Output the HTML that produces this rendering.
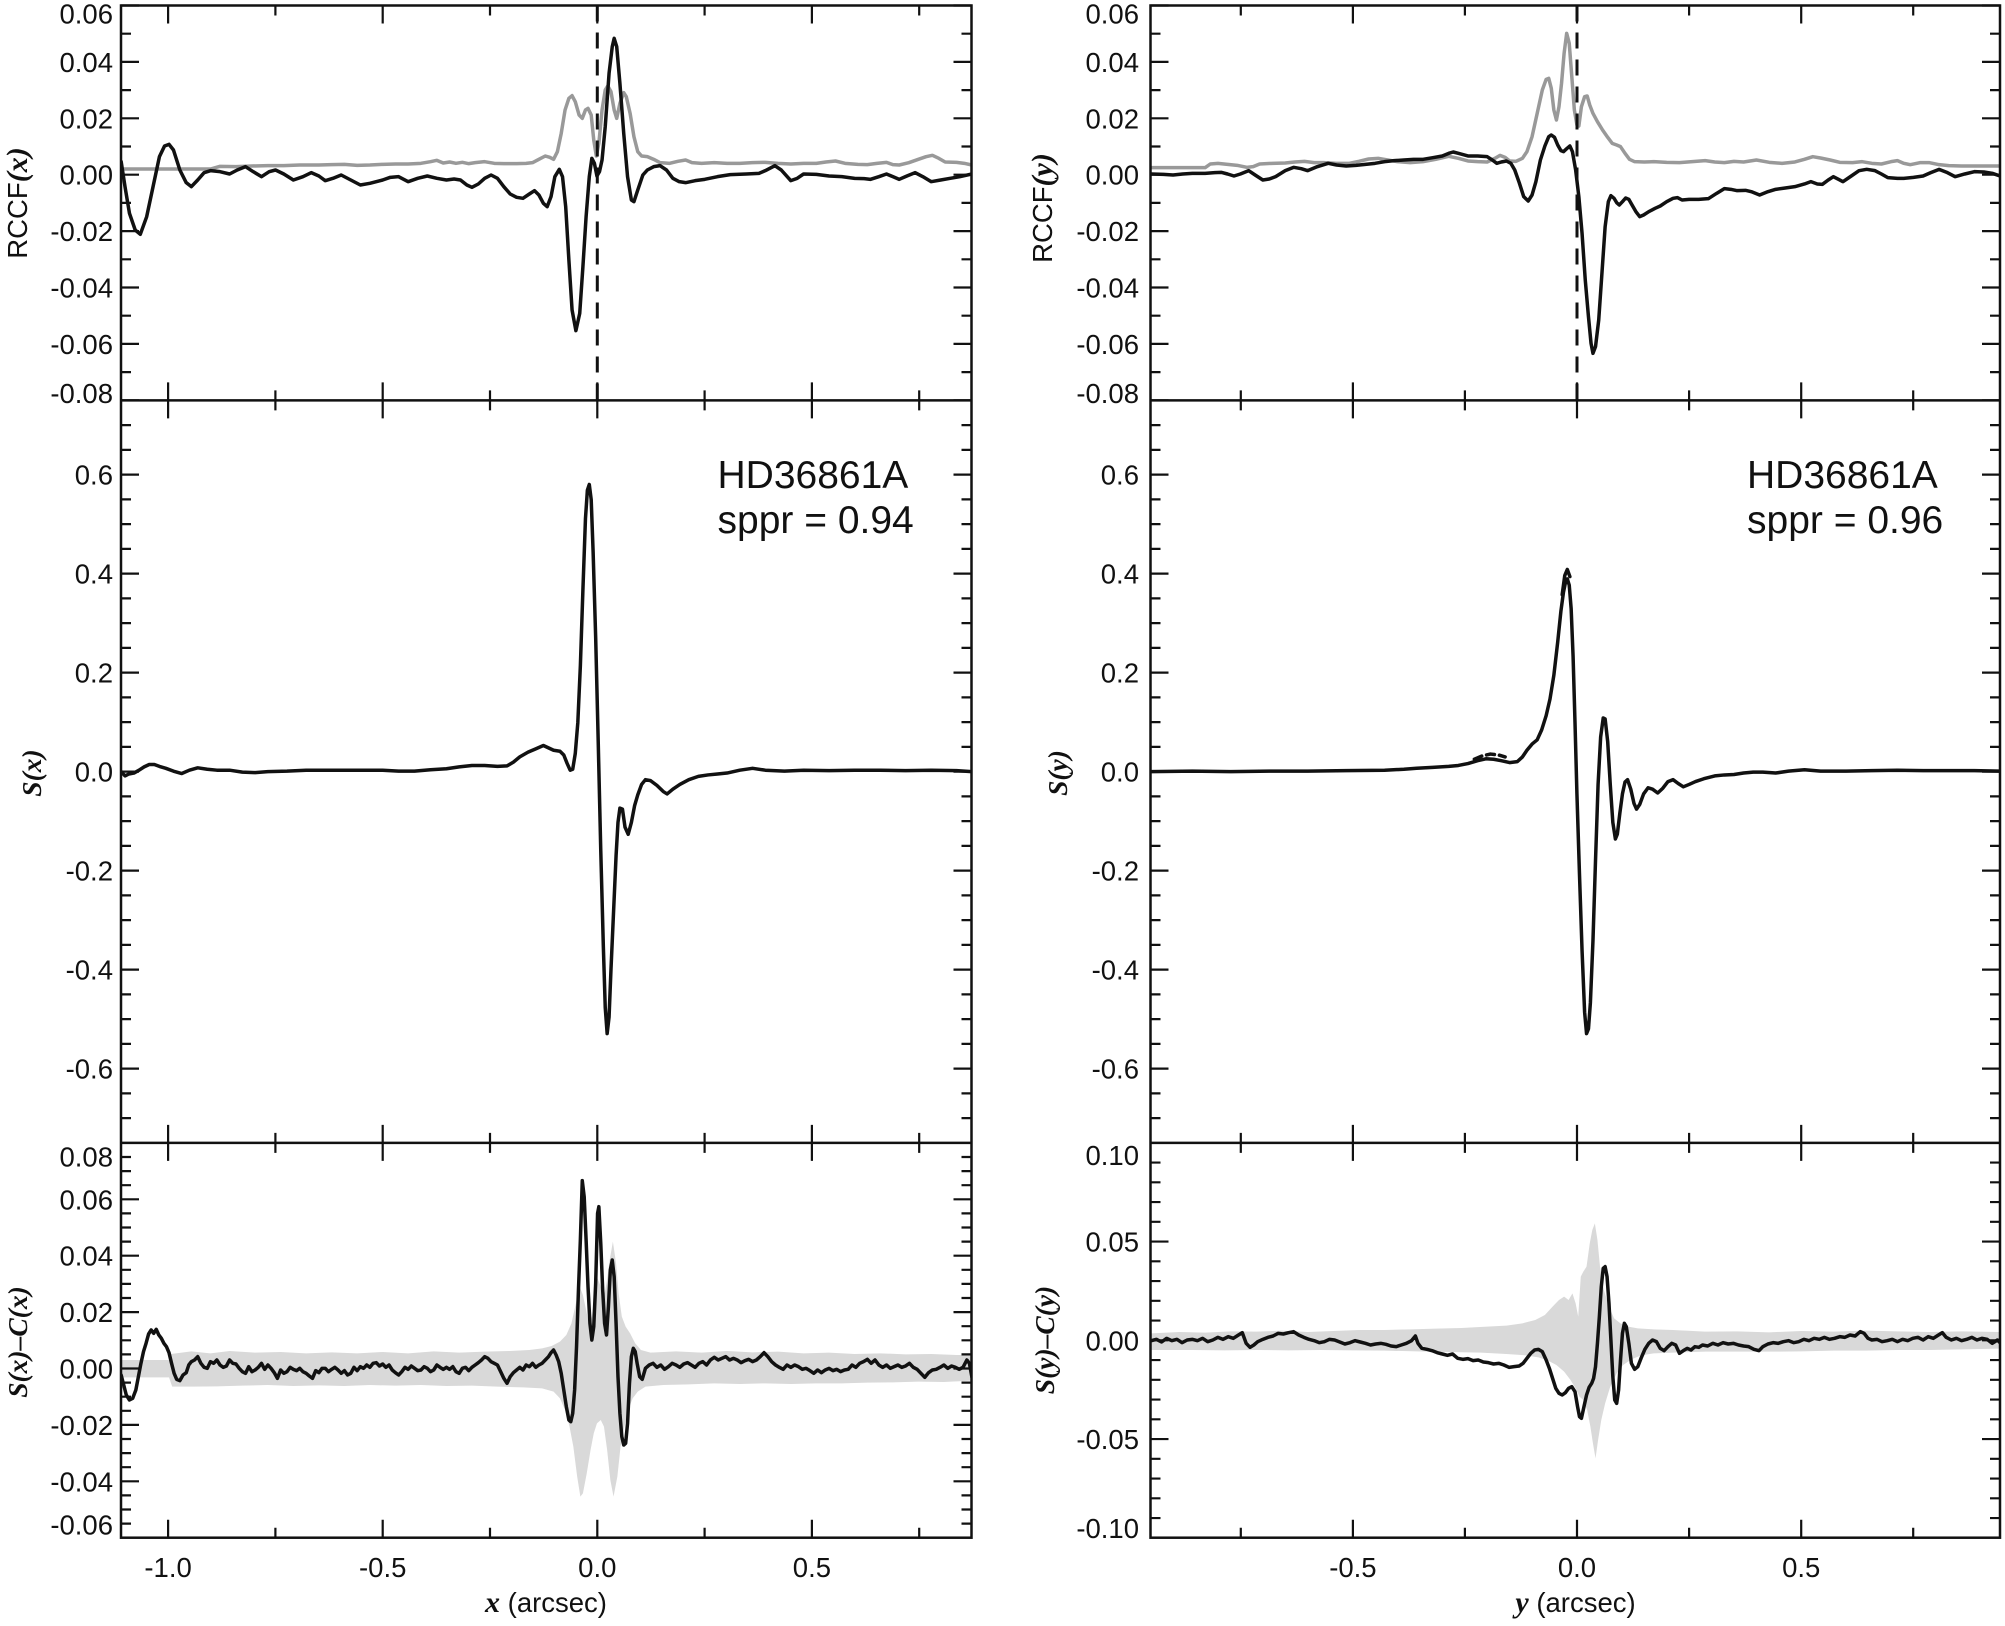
<!DOCTYPE html>
<html><head><meta charset="utf-8"><style>
html,body{margin:0;padding:0;background:#fff;}
svg{display:block;}
.t{font-family:"Liberation Sans",Arial,sans-serif;font-size:27.5px;fill:#111;}
.r{text-anchor:end;}
.m{text-anchor:middle;}
.it{font-family:"Liberation Serif","Times New Roman",serif;font-style:italic;font-weight:bold;}
.ann{font-family:"Liberation Sans",Arial,sans-serif;font-size:39px;fill:#111;}
.blk{fill:none;stroke:#111;stroke-width:3.5;stroke-linejoin:round;stroke-linecap:round;vector-effect:non-scaling-stroke;}
.gry{fill:none;stroke:#999;stroke-width:3.5;stroke-linejoin:round;vector-effect:non-scaling-stroke;}
.band{fill:#d9d9d9;stroke:none;}
.ax{fill:none;stroke:#111;stroke-width:2.5;}
.tk{fill:none;stroke:#111;stroke-width:2.2;}
</style></head><body>
<svg width="2005" height="1626" viewBox="0 0 2005 1626" xmlns="http://www.w3.org/2000/svg">
<defs>
<clipPath id="cTL"><rect x="121" y="5.5" width="850.5" height="395"/></clipPath>
<clipPath id="cTR"><rect x="1150.5" y="5.5" width="849.5" height="395"/></clipPath>
<clipPath id="cML"><rect x="121" y="400.4" width="850.5" height="742.5"/></clipPath>
<clipPath id="cMR"><rect x="1150.5" y="400.4" width="849.5" height="742.5"/></clipPath>
<clipPath id="cBL"><rect x="121" y="1142.9" width="850.5" height="395"/></clipPath>
<clipPath id="cBR"><rect x="1150.5" y="1142.9" width="849.5" height="395"/></clipPath>
<path id="ytTop" d="M0 0h18M0 28.2h10M0 56.4h18M0 84.6h10M0 112.8h18M0 141h10M0 169.2h18M0 197.4h10M0 225.6h18M0 253.8h10M0 282h18M0 310.2h10M0 338.4h18M0 366.6h10M0 394.8h18"/>
<path id="ytMid" d="M0 24.75h10M0 49.5h10M0 74.25h18M0 99h10M0 123.75h10M0 148.5h10M0 173.25h18M0 198h10M0 222.75h10M0 247.5h10M0 272.25h18M0 297h10M0 321.75h10M0 346.5h10M0 371.25h18M0 396h10M0 420.75h10M0 445.5h10M0 470.25h18M0 495h10M0 519.75h10M0 544.5h10M0 569.25h18M0 594h10M0 618.75h10M0 643.5h10M0 668.25h18M0 693h10M0 717.75h10"/>
<path id="ytBL" d="M0 14.1h10M0 28.2h10M0 42.3h10M0 56.4h18M0 70.5h10M0 84.6h10M0 98.7h10M0 112.8h18M0 126.9h10M0 141h10M0 155.1h10M0 169.2h18M0 183.3h10M0 197.4h10M0 211.5h10M0 225.6h18M0 239.7h10M0 253.8h10M0 267.9h10M0 282h18M0 296.1h10M0 310.2h10M0 324.3h10M0 338.4h18M0 352.5h10M0 366.6h10M0 380.7h10"/>
<path id="ytBR" d="M0 19.75h10M0 39.5h10M0 59.25h10M0 79h10M0 98.75h18M0 118.5h10M0 138.25h10M0 158h10M0 177.75h10M0 197.5h18M0 217.25h10M0 237h10M0 256.75h10M0 276.5h10M0 296.25h18M0 316h10M0 335.75h10M0 355.5h10M0 375.25h10"/>
<path id="xtL" d="M168.1 0v18M275.4 0v10M382.7 0v18M490 0v10M597.3 0v18M704.6 0v10M811.9 0v18M919.2 0v10"/>
<path id="xtR" d="M1240.8 0v10M1352.9 0v18M1464.9 0v10M1577 0v18M1689.1 0v10M1801.2 0v18M1913.2 0v10"/>
</defs>
<rect width="2005" height="1626" fill="#fff"/>

<!-- ===== TOP LEFT ===== -->
<g clip-path="url(#cTL)"><g transform="scale(0.63776,0.33333)">
<path class="gry" d="M190 507 L330 507 L345 499 L370 500 L395 498 L420 497 L445 497 L470 495 L500 495 L520 494 L540 493 L560 496 L580 495 L600 493 L620 492 L640 492 L660 490 L675 485 L685 481 L695 489 L705 486 L715 490 L725 487 L735 491 L745 488 L760 485 L775 490 L790 491 L810 491 L825 490 L835 488 L845 478 L855 468 L862 472 L868 478 L874 455 L880 400 L886 330 L892 295 L897 287 L902 305 L908 345 L913 355 L918 330 L922 325 L927 345 L931 420 L935 468 L939 430 L944 330 L949 270 L953 258 L958 275 L963 330 L967 355 L972 310 L978 278 L982 290 L988 340 L994 410 L1000 455 L1006 468 L1015 470 L1025 478 L1035 488 L1050 490 L1063 484 L1075 480 L1085 488 L1100 490 L1120 488 L1140 490 L1160 490 L1180 488 L1200 487 L1220 490 L1240 492 L1260 490 L1280 490 L1295 486 L1310 483 L1325 490 L1345 493 L1360 494 L1375 490 L1390 487 L1400 494 L1410 495 L1425 488 L1440 478 L1452 470 L1462 466 L1472 475 L1482 486 L1500 487 L1512 490 L1524 495"/>
<path class="blk" d="M190 485 L196 560 L203 640 L212 690 L220 703 L230 650 L240 560 L250 470 L258 438 L265 433 L272 450 L282 510 L292 548 L300 560 L310 540 L320 518 L330 512 L345 515 L360 522 L372 510 L385 500 L397 515 L410 530 L422 515 L432 510 L445 522 L460 540 L475 530 L488 518 L500 528 L510 542 L522 535 L535 525 L550 540 L565 555 L580 550 L600 540 L612 532 L625 530 L640 545 L655 535 L670 528 L685 535 L700 540 L712 537 L722 540 L732 555 L740 562 L750 552 L760 535 L770 525 L780 535 L790 560 L800 582 L810 592 L820 595 L830 582 L838 572 L845 585 L852 610 L858 620 L864 590 L870 530 L877 508 L882 530 L887 620 L892 780 L897 930 L903 992 L909 940 L914 800 L919 650 L924 530 L928 475 L932 490 L936 528 L940 515 L944 480 L949 380 L955 220 L960 140 L963 115 L967 140 L972 250 L978 400 L984 530 L990 600 L994 605 L1000 570 L1008 525 L1015 510 L1025 500 L1035 497 L1045 510 L1055 535 L1065 545 L1075 548 L1090 542 L1105 538 L1125 530 L1145 524 L1170 522 L1190 520 L1200 512 L1215 497 L1225 510 L1240 542 L1250 535 L1260 522 L1280 523 L1300 528 L1320 530 L1340 535 L1355 536 L1365 538 L1378 530 L1390 522 L1400 530 L1410 538 L1422 528 L1435 518 L1447 530 L1460 545 L1475 540 L1490 535 L1505 530 L1524 522"/>
</g></g>
<line x1="597.3" y1="5.5" x2="597.3" y2="400" stroke="#111" stroke-width="3" stroke-dasharray="16 11"/>

<!-- ===== TOP RIGHT ===== -->
<g clip-path="url(#cTR)"><g transform="translate(1000,0) scale(0.64103,0.33333)">
<path class="gry" d="M236 503 L320 503 L328 492 L340 490 L355 493 L370 496 L385 502 L395 500 L405 492 L425 490 L445 489 L460 486 L475 484 L490 488 L505 488 L525 490 L545 490 L560 484 L575 477 L590 475 L605 480 L620 485 L640 488 L660 485 L680 478 L700 469 L715 475 L730 483 L745 485 L760 486 L772 475 L780 466 L788 472 L795 483 L805 484 L815 475 L822 455 L830 410 L838 340 L846 270 L852 238 L856 235 L860 265 L864 330 L868 360 L872 320 L876 250 L880 160 L884 100 L888 130 L892 230 L896 330 L900 375 L903 378 L907 320 L912 290 L916 288 L920 315 L925 340 L932 365 L940 390 L948 412 L955 430 L962 435 L968 440 L975 460 L982 478 L990 485 L1005 486 L1020 485 L1040 487 L1060 488 L1080 485 L1100 482 L1115 486 L1130 488 L1145 484 L1160 486 L1180 480 L1200 487 L1220 490 L1240 486 L1255 478 L1268 470 L1280 474 L1295 480 L1310 487 L1330 488 L1345 485 L1360 490 L1375 492 L1390 485 L1400 482 L1410 490 L1420 494 L1435 488 L1450 488 L1465 494 L1480 497 L1500 498 L1560 498"/>
<path class="blk" d="M236 522 L255 523 L270 525 L285 522 L300 520 L320 520 L335 518 L345 517 L355 522 L365 528 L375 522 L388 512 L398 525 L410 540 L420 537 L430 530 L445 512 L458 502 L470 506 L480 512 L495 500 L512 490 L525 495 L540 498 L555 496 L570 493 L585 490 L600 485 L615 482 L630 480 L645 478 L660 478 L675 473 L690 468 L700 460 L707 456 L715 460 L730 468 L745 468 L760 470 L768 480 L775 490 L782 486 L790 483 L797 490 L803 510 L810 548 L817 590 L824 603 L830 585 L836 545 L843 480 L850 438 L856 410 L860 405 L865 412 L870 435 L875 452 L879 455 L884 446 L889 438 L893 455 L898 510 L903 590 L908 700 L913 840 L918 950 L922 1030 L925 1060 L929 1040 L934 960 L939 820 L944 680 L949 605 L953 587 L958 595 L962 608 L966 615 L971 605 L976 594 L981 598 L986 615 L992 635 L998 650 L1004 645 L1012 635 L1022 625 L1030 618 L1040 605 L1050 595 L1057 593 L1064 600 L1075 598 L1090 598 L1105 596 L1118 580 L1130 566 L1140 568 L1150 572 L1163 571 L1172 575 L1185 585 L1198 575 L1210 568 L1225 564 L1240 560 L1255 552 L1265 545 L1275 552 L1283 553 L1292 540 L1300 530 L1308 538 L1315 545 L1328 528 L1340 512 L1352 508 L1365 512 L1375 522 L1385 533 L1400 535 L1410 535 L1425 532 L1440 528 L1452 518 L1465 508 L1478 518 L1490 530 L1505 522 L1520 515 L1535 516 L1548 520 L1560 528"/>
</g></g>
<line x1="1577" y1="5.5" x2="1577" y2="400" stroke="#111" stroke-width="3" stroke-dasharray="16 11"/>

<!-- ===== MIDDLE LEFT ===== -->
<g clip-path="url(#cML)"><g transform="translate(0,400) scale(0.63776,0.47461)">
<path class="blk" d="M190 783 L196 792 L202 788 L210 786 L218 780 L226 773 L234 768 L242 768 L250 772 L260 776 L272 782 L285 787 L297 780 L310 775 L325 778 L340 780 L360 780 L380 784 L400 785 L420 783 L450 782 L480 780 L500 780 L550 780 L600 780 L625 782 L650 782 L675 779 L700 777 L720 773 L740 770 L760 770 L780 772 L795 771 L805 763 L815 752 L828 742 L840 735 L852 728 L860 733 L868 738 L878 740 L884 748 L889 765 L894 780 L898 778 L902 745 L906 680 L910 560 L914 400 L918 250 L921 190 L924 178 L927 210 L930 320 L934 500 L938 720 L942 950 L946 1150 L949 1280 L952 1335 L955 1300 L958 1200 L962 1080 L966 960 L969 890 L972 860 L976 862 L980 900 L985 915 L990 890 L995 855 L1000 832 L1006 810 L1012 800 L1020 802 L1030 812 L1040 825 L1046 830 L1055 820 L1066 810 L1080 800 L1095 793 L1110 790 L1125 788 L1140 786 L1160 780 L1180 776 L1200 780 L1230 782 L1260 780 L1300 781 L1340 780 L1380 780 L1420 781 L1460 780 L1500 781 L1524 783"/>
</g></g>

<!-- ===== MIDDLE RIGHT ===== -->
<g clip-path="url(#cMR)"><g transform="translate(1000,400) scale(0.64103,0.47461)">
<path class="blk" d="M236 783 L300 782 L360 783 L420 782 L480 782 L540 781 L600 780 L630 778 L650 776 L675 774 L700 772 L715 770 L730 766 L745 760 L758 756 L770 757 L782 760 L795 764 L807 762 L815 752 L822 738 L830 725 L838 716 L845 695 L852 665 L858 630 L864 580 L870 510 L875 445 L879 405 L882 385 L885 377 L888 390 L891 440 L894 540 L897 680 L900 830 L904 1000 L908 1160 L912 1290 L915 1335 L918 1325 L921 1270 L925 1140 L929 970 L933 810 L937 710 L941 670 L944 672 L948 720 L952 810 L956 890 L960 925 L963 915 L967 870 L971 830 L975 805 L979 800 L984 820 L989 850 L993 862 L998 852 L1004 830 L1011 817 L1018 820 L1026 828 L1034 818 L1042 804 L1050 800 L1058 808 L1066 815 L1075 810 L1085 804 L1098 798 L1115 792 L1130 790 L1145 789 L1160 786 L1175 784 L1190 784 L1210 786 L1230 782 L1255 779 L1280 782 L1320 782 L1360 781 L1400 780 L1440 781 L1480 781 L1520 781 L1560 782"/>
<path class="blk" stroke-dasharray="8 5" d="M740 757 L752 750 L765 746 L778 748 L788 752"/>
<path class="blk" d="M877 410 L881 370 L885 357 L889 372"/>
</g></g>

<!-- ===== BOTTOM LEFT ===== -->
<g clip-path="url(#cBL)"><g transform="translate(0,1130) scale(0.63776,0.33333)">
<path class="band" d="M190 690 L265 690 L268 672 L285 668 L300 664 L330 670 L360 663 L400 668 L440 666 L480 670 L520 667 L560 670 L600 666 L640 670 L680 664 L720 668 L760 665 L800 663 L830 660 L850 655 L865 648 L878 635 L888 615 L896 580 L903 520 L909 470 L914 495 L919 540 L924 590 L928 560 L932 500 L937 445 L942 470 L947 500 L951 460 L956 390 L961 335 L966 400 L970 490 L975 560 L981 590 L988 610 L996 640 L1005 660 L1020 668 L1060 664 L1100 668 L1140 663 L1180 667 L1220 665 L1260 670 L1300 668 L1340 672 L1380 670 L1420 673 L1460 672 L1500 675 L1524 675 L1524 752 L1480 756 L1440 755 L1400 757 L1360 758 L1320 760 L1280 760 L1240 762 L1200 760 L1160 762 L1120 760 L1080 763 L1040 765 L1012 770 L1000 785 L992 805 L985 840 L979 890 L973 950 L968 1040 L962 1100 L957 1050 L952 960 L947 890 L942 870 L936 880 L931 910 L926 960 L920 1030 L914 1090 L910 1100 L905 1040 L899 950 L893 890 L886 840 L878 805 L868 785 L850 775 L820 772 L780 770 L740 767 L700 768 L660 765 L620 767 L580 765 L540 768 L500 766 L460 768 L420 765 L380 767 L340 769 L300 770 L270 770 L265 742 L190 742 Z"/>
<path class="blk" d="M190 735 L194 765 L198 795 L203 810 L208 805 L213 780 L217 740 L221 700 L225 665 L229 640 L233 612 L237 600 L241 610 L245 598 L249 615 L253 625 L257 640 L261 650 L265 668 L269 700 L273 730 L277 748 L282 752 L287 735 L292 728 L296 705 L300 695 L305 690 L310 680 L315 700 L320 712 L325 715 L330 695 L335 700 L340 690 L345 705 L350 712 L355 708 L360 690 L365 700 L370 702 L375 715 L380 725 L385 730 L390 710 L395 725 L400 720 L405 712 L410 700 L415 718 L420 705 L425 715 L430 728 L435 745 L440 720 L445 730 L450 725 L455 712 L460 718 L465 722 L470 715 L475 725 L480 730 L485 738 L490 745 L495 722 L500 728 L505 715 L510 715 L515 725 L520 718 L525 712 L530 720 L535 730 L540 722 L545 735 L550 730 L555 712 L560 722 L565 710 L570 715 L575 705 L580 712 L585 700 L590 698 L595 708 L600 702 L605 712 L610 705 L615 720 L620 728 L625 735 L630 725 L635 712 L640 718 L645 708 L650 715 L655 722 L660 720 L665 710 L670 715 L675 725 L680 720 L685 705 L690 712 L695 718 L700 712 L705 718 L710 710 L715 725 L720 730 L725 715 L730 712 L735 722 L740 712 L745 705 L750 698 L755 690 L760 680 L765 685 L770 695 L775 700 L780 705 L785 725 L790 745 L795 760 L800 740 L805 728 L810 720 L815 712 L820 720 L825 705 L830 710 L835 700 L840 712 L845 705 L850 700 L855 690 L860 680 L864 668 L868 660 L872 675 L876 695 L880 730 L884 780 L888 830 L892 870 L895 875 L898 850 L901 780 L904 650 L907 480 L910 330 L913 152 L916 200 L919 330 L922 470 L925 580 L928 630 L931 590 L934 460 L937 250 L939 230 L942 340 L945 480 L948 580 L951 615 L954 530 L957 420 L960 390 L963 440 L966 580 L969 740 L972 850 L975 920 L978 945 L981 940 L984 880 L987 760 L990 680 L993 655 L996 665 L999 700 L1003 740 L1007 748 L1012 715 L1018 705 L1024 700 L1030 712 L1036 705 L1042 718 L1048 710 L1054 700 L1060 705 L1066 712 L1072 702 L1078 698 L1084 705 L1090 712 L1096 700 L1102 695 L1108 705 L1114 690 L1120 682 L1126 690 L1132 685 L1138 680 L1144 690 L1150 685 L1156 690 L1162 698 L1168 692 L1174 688 L1180 695 L1186 690 L1192 680 L1198 668 L1204 680 L1210 695 L1216 705 L1222 712 L1228 718 L1234 705 L1240 712 L1246 705 L1252 710 L1258 718 L1264 715 L1270 722 L1276 730 L1282 720 L1288 728 L1294 720 L1300 715 L1306 722 L1312 718 L1318 725 L1324 720 L1330 718 L1336 705 L1342 712 L1348 700 L1354 695 L1360 688 L1366 700 L1372 690 L1378 705 L1384 712 L1390 705 L1396 715 L1402 710 L1408 705 L1414 712 L1420 708 L1426 700 L1432 712 L1438 718 L1444 730 L1450 742 L1456 728 L1462 720 L1468 718 L1474 712 L1480 705 L1486 715 L1492 708 L1498 712 L1504 718 L1510 712 L1516 690 L1520 700 L1524 742"/>
</g></g>

<!-- ===== BOTTOM RIGHT ===== -->
<g clip-path="url(#cBR)"><g transform="translate(1000,1130) scale(0.64103,0.33333)">
<path class="band" d="M236 610 L280 606 L320 608 L360 604 L400 605 L440 602 L480 606 L520 603 L560 600 L600 600 L640 598 L680 596 L720 594 L760 590 L790 587 L815 580 L835 570 L850 555 L862 530 L872 510 L880 500 L887 510 L893 490 L898 520 L902 560 L906 440 L910 425 L915 410 L920 340 L924 300 L928 280 L932 330 L936 410 L942 480 L950 530 L958 565 L968 580 L980 590 L995 595 L1020 598 L1050 600 L1100 605 L1150 604 L1200 607 L1250 603 L1300 605 L1350 602 L1400 604 L1450 606 L1500 604 L1560 606 L1560 656 L1500 658 L1450 660 L1400 660 L1350 662 L1300 662 L1250 664 L1200 665 L1150 665 L1100 665 L1050 668 L1020 670 L1000 676 L985 688 L972 705 L962 730 L952 770 L944 820 L938 870 L933 930 L929 985 L925 940 L921 890 L916 840 L910 810 L904 800 L898 775 L890 750 L880 725 L868 705 L855 692 L840 682 L820 676 L790 672 L750 668 L700 666 L650 664 L600 662 L550 661 L500 660 L450 661 L400 660 L350 661 L300 660 L236 660 Z"/>
<path class="blk" d="M236 632 L244 628 L252 636 L260 625 L268 632 L276 628 L284 638 L292 630 L300 628 L308 632 L316 625 L324 635 L332 630 L340 622 L348 628 L356 620 L364 625 L372 615 L378 608 L384 640 L390 652 L396 645 L402 635 L410 628 L418 622 L426 618 L434 610 L442 612 L450 608 L458 605 L466 615 L474 622 L482 628 L490 632 L498 638 L506 635 L514 628 L522 630 L530 636 L538 642 L546 638 L554 632 L562 636 L570 640 L578 645 L586 642 L594 640 L602 643 L610 648 L618 650 L626 645 L634 640 L642 632 L648 618 L652 640 L658 655 L666 658 L674 662 L682 668 L690 672 L698 676 L706 672 L714 685 L722 688 L730 686 L738 692 L746 690 L754 696 L762 698 L770 702 L778 700 L786 705 L794 712 L802 710 L810 708 L816 700 L822 685 L828 670 L834 660 L840 658 L846 665 L852 690 L857 715 L862 745 L867 775 L872 790 L877 795 L882 788 L887 775 L892 770 L897 785 L901 830 L904 860 L907 865 L911 830 L915 795 L919 772 L923 760 L926 745 L929 710 L932 640 L935 560 L938 470 L941 415 L944 410 L947 440 L950 520 L953 630 L956 740 L959 810 L962 820 L965 780 L968 690 L971 610 L974 580 L977 590 L981 640 L985 700 L990 718 L995 710 L1000 685 L1006 658 L1012 640 L1018 630 L1024 635 L1030 655 L1036 662 L1042 650 L1048 640 L1054 645 L1060 670 L1066 662 L1072 655 L1078 660 L1084 650 L1090 652 L1096 645 L1104 648 L1112 640 L1120 645 L1128 638 L1136 642 L1144 640 L1152 645 L1160 648 L1168 650 L1176 658 L1184 662 L1190 650 L1198 642 L1206 638 L1214 640 L1222 635 L1230 632 L1238 638 L1246 635 L1254 628 L1262 632 L1270 625 L1278 628 L1286 622 L1294 628 L1302 625 L1310 620 L1318 622 L1326 615 L1334 618 L1342 605 L1348 610 L1354 625 L1360 630 L1368 628 L1376 635 L1384 632 L1392 628 L1400 635 L1408 628 L1416 632 L1424 625 L1432 622 L1440 630 L1448 620 L1456 625 L1464 615 L1470 608 L1476 622 L1484 630 L1492 625 L1500 632 L1508 628 L1516 622 L1524 630 L1532 625 L1540 628 L1548 640 L1556 630 L1560 638"/>
</g></g>

<!-- ===== AXES FRAMES ===== -->
<rect class="ax" x="121" y="5.5" width="850.5" height="1532.2"/>
<line class="ax" x1="121" y1="400.4" x2="971.5" y2="400.4"/>
<line class="ax" x1="121" y1="1142.9" x2="971.5" y2="1142.9"/>
<rect class="ax" x="1150.5" y="5.5" width="849.5" height="1532.2"/>
<line class="ax" x1="1150.5" y1="400.4" x2="2000" y2="400.4"/>
<line class="ax" x1="1150.5" y1="1142.9" x2="2000" y2="1142.9"/>

<!-- ===== Y TICKS ===== -->
<g class="tk">
<use href="#ytTop" transform="translate(121,5.5)"/>
<use href="#ytTop" transform="translate(971.5,5.5) scale(-1,1)"/>
<use href="#ytTop" transform="translate(1150.5,5.5)"/>
<use href="#ytTop" transform="translate(2000,5.5) scale(-1,1)"/>
<use href="#ytMid" transform="translate(121,400.4)"/>
<use href="#ytMid" transform="translate(971.5,400.4) scale(-1,1)"/>
<use href="#ytMid" transform="translate(1150.5,400.4)"/>
<use href="#ytMid" transform="translate(2000,400.4) scale(-1,1)"/>
<use href="#ytBL" transform="translate(121,1142.9)"/>
<use href="#ytBL" transform="translate(971.5,1142.9) scale(-1,1)"/>
<use href="#ytBR" transform="translate(1150.5,1142.8)"/>
<use href="#ytBR" transform="translate(2000,1142.8) scale(-1,1)"/>
<!-- X TICKS -->
<use href="#xtL" transform="translate(0,5.5)"/>
<use href="#xtL" transform="translate(0,400.4) scale(1,-1)"/>
<use href="#xtL" transform="translate(0,400.4)"/>
<use href="#xtL" transform="translate(0,1142.9) scale(1,-1)"/>
<use href="#xtL" transform="translate(0,1142.9)"/>
<use href="#xtL" transform="translate(0,1537.7) scale(1,-1)"/>
<use href="#xtR" transform="translate(0,5.5)"/>
<use href="#xtR" transform="translate(0,400.4) scale(1,-1)"/>
<use href="#xtR" transform="translate(0,400.4)"/>
<use href="#xtR" transform="translate(0,1142.9) scale(1,-1)"/>
<use href="#xtR" transform="translate(0,1142.9)"/>
<use href="#xtR" transform="translate(0,1537.7) scale(1,-1)"/>
</g>

<!-- ===== TICK LABELS LEFT ===== -->
<g class="t r">
<text x="113" y="23.5">0.06</text>
<text x="113" y="71.9">0.04</text>
<text x="113" y="128.3">0.02</text>
<text x="113" y="184.7">0.00</text>
<text x="113" y="241.1">-0.02</text>
<text x="113" y="297.5">-0.04</text>
<text x="113" y="353.9">-0.06</text>
<text x="113" y="403">-0.08</text>
<text x="113" y="484.7">0.6</text>
<text x="113" y="583.7">0.4</text>
<text x="113" y="682.7">0.2</text>
<text x="113" y="781.7">0.0</text>
<text x="113" y="880.7">-0.2</text>
<text x="113" y="979.7">-0.4</text>
<text x="113" y="1078.7">-0.6</text>
<text x="113" y="1166.7">0.08</text>
<text x="113" y="1209.3">0.06</text>
<text x="113" y="1265.7">0.04</text>
<text x="113" y="1322.1">0.02</text>
<text x="113" y="1378.5">0.00</text>
<text x="113" y="1434.9">-0.02</text>
<text x="113" y="1491.3">-0.04</text>
<text x="113" y="1534.3">-0.06</text>
</g>
<!-- TICK LABELS RIGHT -->
<g class="t r">
<text x="1139" y="23.5">0.06</text>
<text x="1139" y="71.9">0.04</text>
<text x="1139" y="128.3">0.02</text>
<text x="1139" y="184.7">0.00</text>
<text x="1139" y="241.1">-0.02</text>
<text x="1139" y="297.5">-0.04</text>
<text x="1139" y="353.9">-0.06</text>
<text x="1139" y="403">-0.08</text>
<text x="1139" y="484.7">0.6</text>
<text x="1139" y="583.7">0.4</text>
<text x="1139" y="682.7">0.2</text>
<text x="1139" y="781.7">0.0</text>
<text x="1139" y="880.7">-0.2</text>
<text x="1139" y="979.7">-0.4</text>
<text x="1139" y="1078.7">-0.6</text>
<text x="1139" y="1165">0.10</text>
<text x="1139" y="1251.5">0.05</text>
<text x="1139" y="1350.3">0.00</text>
<text x="1139" y="1449">-0.05</text>
<text x="1139" y="1538">-0.10</text>
</g>
<!-- X TICK LABELS -->
<g class="t m">
<text x="168.1" y="1577">-1.0</text>
<text x="382.7" y="1577">-0.5</text>
<text x="597.3" y="1577">0.0</text>
<text x="811.9" y="1577">0.5</text>
<text x="1352.9" y="1577">-0.5</text>
<text x="1577" y="1577">0.0</text>
<text x="1801.2" y="1577">0.5</text>
</g>

<!-- AXIS TITLES -->
<text class="t m" x="546" y="1612"><tspan class="it" font-size="30">x</tspan> (arcsec)</text>
<text class="t m" x="1575.5" y="1612"><tspan class="it" font-size="30">y</tspan> (arcsec)</text>

<text class="t m" transform="translate(27,203) rotate(-90)">RCCF<tspan class="it" font-size="30">(x)</tspan></text>
<text class="t m" transform="translate(1052,208) rotate(-90)">RCCF<tspan class="it" font-size="30">(y)</tspan></text>
<text class="t m it" font-size="30" transform="translate(41,773) rotate(-90)">S(x)</text>
<text class="t m it" font-size="30" transform="translate(1067,773) rotate(-90)">S(y)</text>
<text class="t m it" font-size="30" transform="translate(27,1342) rotate(-90)">S(x)–C(x)</text>
<text class="t m it" font-size="30" transform="translate(1054,1340) rotate(-90)">S(y)–C(y)</text>

<!-- ANNOTATIONS -->
<text class="ann" x="717.5" y="488">HD36861A</text>
<text class="ann" x="717.5" y="533">sppr = 0.94</text>
<text class="ann" x="1747" y="488">HD36861A</text>
<text class="ann" x="1747" y="533">sppr = 0.96</text>
</svg>
</body></html>
